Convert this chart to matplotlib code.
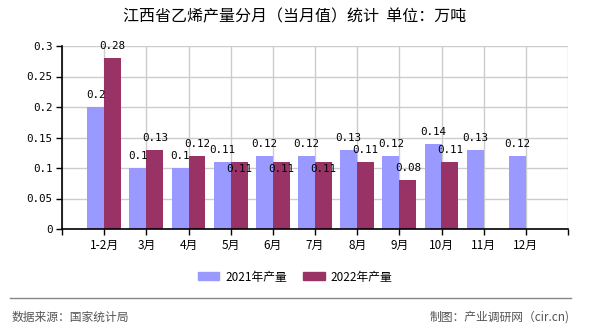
import matplotlib
matplotlib.use('Agg')
import matplotlib.pyplot as plt
from matplotlib.lines import Line2D
from matplotlib.patches import Patch

plt.rcParams['font.family'] = ['Noto Sans CJK SC', 'DejaVu Sans']

months = ['1-2月', '3月', '4月', '5月', '6月', '7月', '8月', '9月', '10月', '11月', '12月']
prod_2021 = [0.2, 0.1, 0.1, 0.11, 0.12, 0.12, 0.13, 0.12, 0.14, 0.13, 0.12]
prod_2022 = [0.28, 0.13, 0.12, 0.11, 0.11, 0.11, 0.11, 0.08, 0.11, None, None]

c21 = '#9999FF'
c22 = '#993366'
mono = ['DejaVu Sans Mono', 'Noto Sans CJK SC']

fig = plt.figure(figsize=(5.9, 3.3), dpi=100)
ax = fig.add_axes([62 / 590, 1 - 229 / 330, 506 / 590, 183 / 330])

w = 0.4
x = list(range(len(months)))
ax.bar([i - w / 2 for i in x], prod_2021, width=w, color=c21, zorder=2)
x22 = [i for i in x if prod_2022[i] is not None]
ax.bar([i + w / 2 for i in x22], [prod_2022[i] for i in x22], width=w, color=c22, zorder=2)

for i in x:
    v = prod_2021[i]
    ax.annotate('%g' % v, (i - w / 2, v), xytext=(0, 8.5), textcoords='offset points',
                ha='center', va='center', fontsize=7.8, family=mono, zorder=3)
for i in x22:
    v = prod_2022[i]
    # label collides with the 2021 label -> push it inside the bar
    dy = -5 if abs(v - prod_2021[i]) < 0.015 else 8.5
    ax.annotate('%g' % v, (i + w / 2, v), xytext=(0, dy), textcoords='offset points',
                ha='center', va='center', fontsize=7.8, family=mono, zorder=3)

ax.set_xlim(-1, 11)
ax.set_ylim(0, 0.3)
ax.set_xticks(range(-1, 12))
ax.set_xticklabels([''] + months + [''], fontsize=8.5)
ax.set_yticks([0, 0.05, 0.1, 0.15, 0.2, 0.25, 0.3])
ax.set_yticklabels(['0', '0.05', '0.1', '0.15', '0.2', '0.25', '0.3'], fontsize=7.8, family=mono)
ax.tick_params(length=4, width=1, pad=3)
ax.grid(True, color='#CCCCCC', lw=1, zorder=0)
ax.set_axisbelow(True)
for s in ['top', 'right']:
    ax.spines[s].set_visible(False)
ax.spines['left'].set_linewidth(1.2)
ax.spines['bottom'].set_linewidth(1.2)

fig.text(0.5, 1 - 17 / 330, '江西省乙烯产量分月（当月值）统计  单位：万吨', ha='center', va='center',
         fontsize=11.5)

handles = [Patch(color=c21, label='2021年产量'), Patch(color=c22, label='2022年产量')]
fig.legend(handles=handles, loc='center', bbox_to_anchor=(0.5, 1 - 277 / 330), ncol=2,
           frameon=False, fontsize=8.5, handlelength=1.8, handleheight=0.65,
           handletextpad=0.5, columnspacing=1.4)

fig.add_artist(Line2D([10 / 590, 571 / 590], [1 - 298 / 330, 1 - 298 / 330],
                      color='#888888', lw=1))
fig.text(12 / 590, 1 - 317 / 330, '数据来源：国家统计局', ha='left', va='center',
         fontsize=8.5, color='#555555')
fig.text(570 / 590, 1 - 317 / 330, '制图：产业调研网（cir.cn)', ha='right', va='center',
         fontsize=8.5, color='#555555')

fig.savefig('out.png', dpi=100)
